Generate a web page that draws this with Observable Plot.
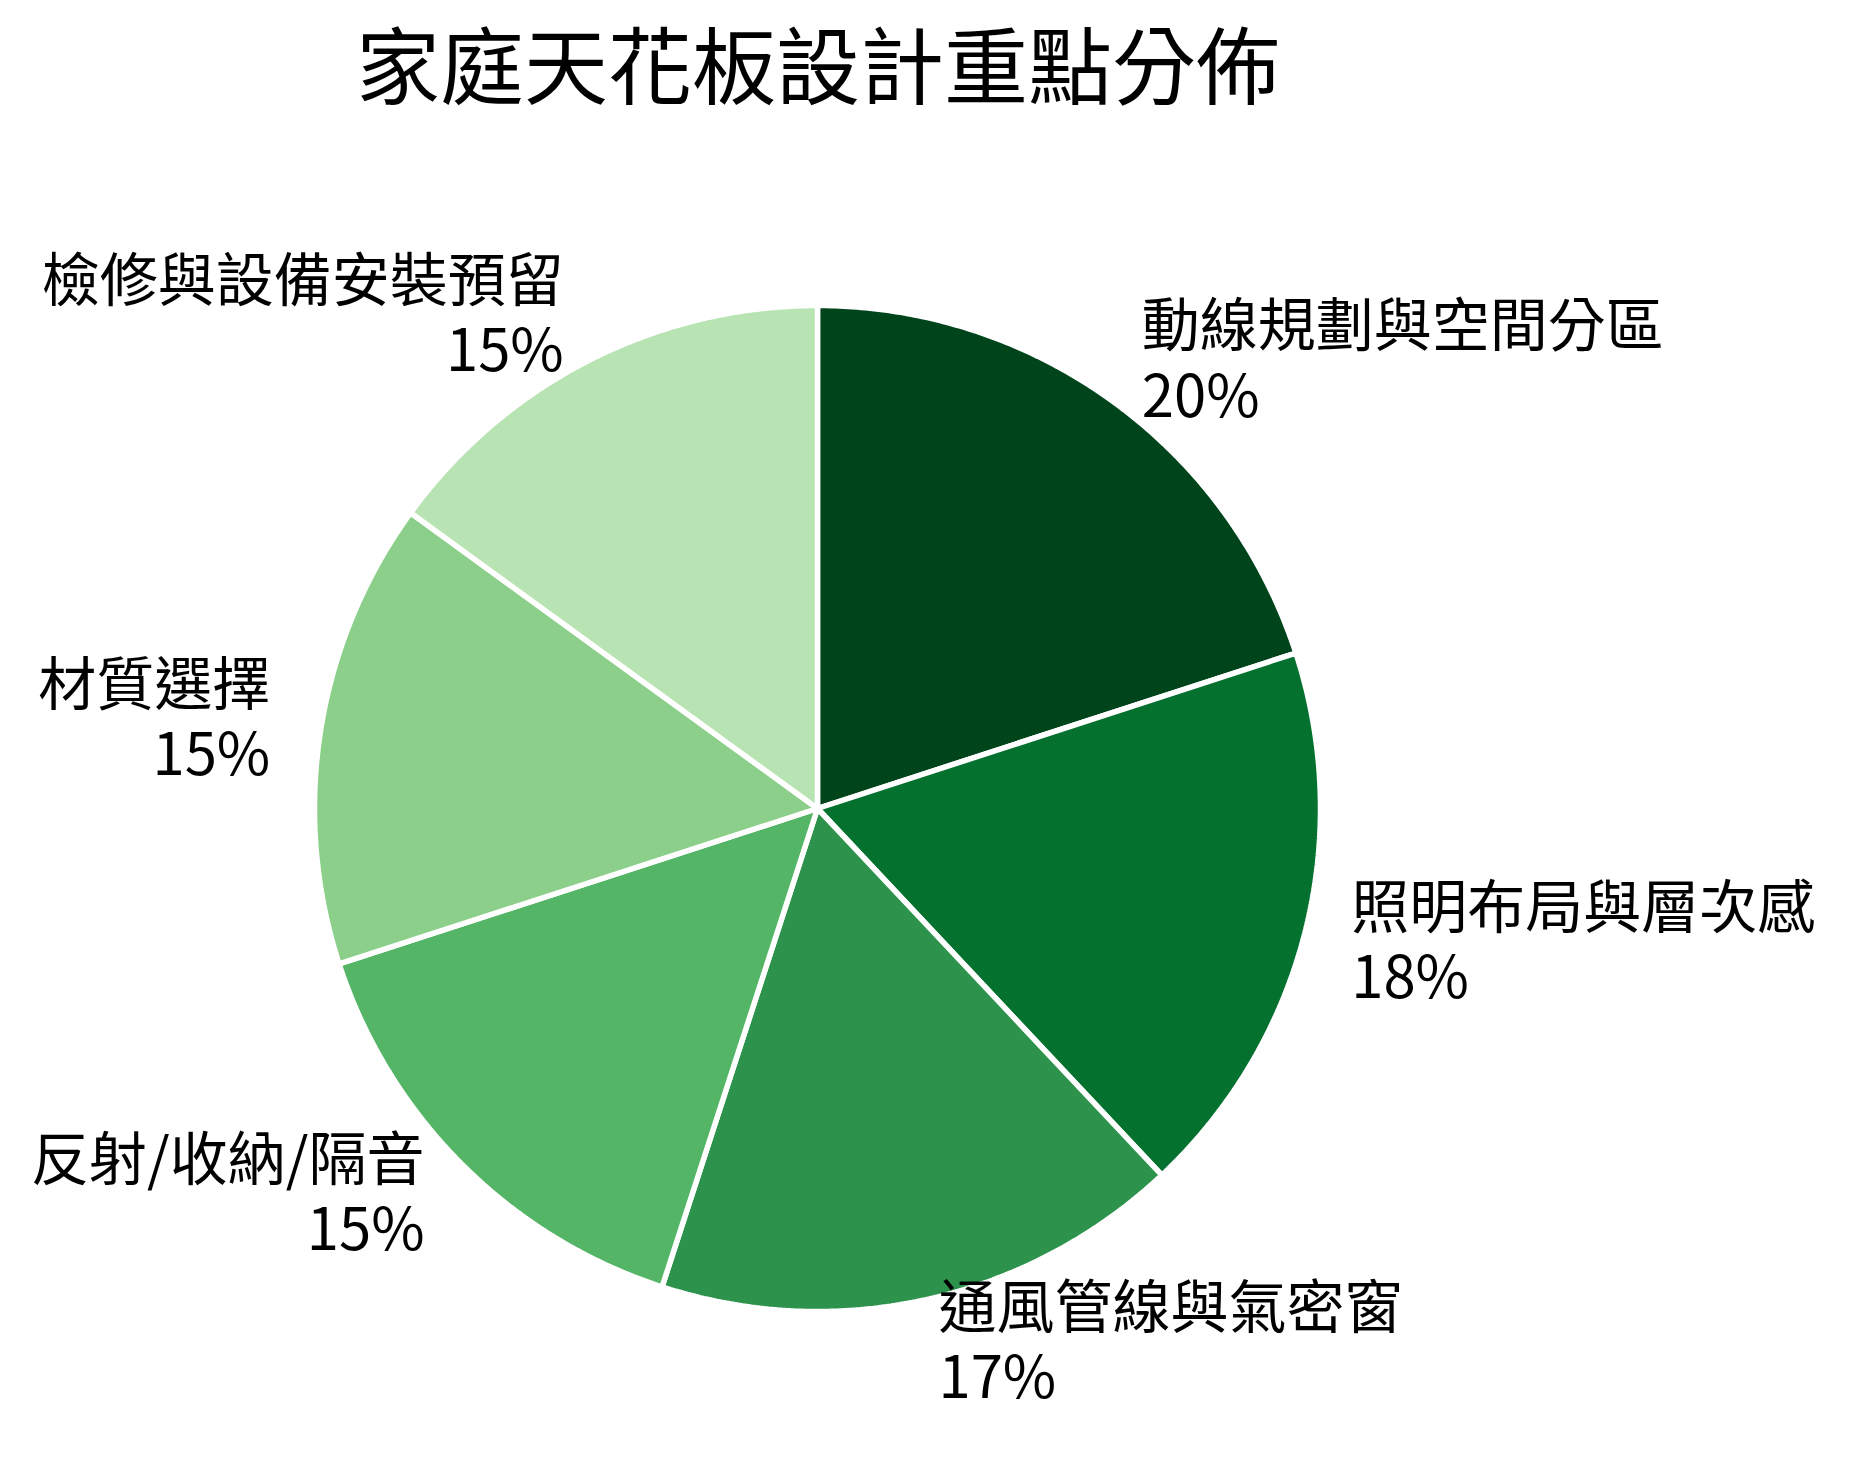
<!DOCTYPE html>
<html>
<head>
<meta charset="utf-8">
<script src="https://cdn.jsdelivr.net/npm/d3@7"></script>
<script src="https://cdn.jsdelivr.net/npm/@observablehq/plot@0.6"></script>
<style>
  html, body { margin: 0; padding: 0; background: #fff; }
  #title {
    font-family: "Noto Sans CJK TC", "Noto Sans CJK SC", sans-serif;
    font-size: 84px; line-height: 124px; height: 136px;
    text-align: center; color: #000; white-space: nowrap;
  }
  svg { display: block; }
</style>
</head>
<body>
<div id="title">家庭天花板設計重點分佈</div>
<div id="chart"></div>
<script>
const titleText = "家庭天花板設計重點分佈";
const labels = ["動線規劃與空間分區", "照明布局與層次感", "通風管線與氣密窗", "反射/收納/隔音", "材質選擇", "檢修與設備安裝預留"];
const values = [20, 18, 17, 15, 15, 15];
const colors = ["#00441b", "#05712f", "#2c924c", "#54b567", "#8ccf8a", "#b8e3b2"];

// layout
const W = 1850, H = 1332;
const CX = 817, CY = 672, R = 503;
const FONT = "Noto Sans CJK TC, Noto Sans CJK SC, sans-serif";

document.getElementById("title").textContent = titleText;
document.getElementById("title").style.width = (2 * CX + 2) + "px";

const total = d3.sum(values);
// angles clockwise from top (like startangle=90, counterclock=False)
let acc = 0;
const slices = labels.map((label, i) => {
  const a0 = acc / total * 2 * Math.PI;
  acc += values[i];
  const a1 = acc / total * 2 * Math.PI;
  return {label, value: values[i], a0, a1, mid: (a0 + a1) / 2};
});

const wedgePts = [];
for (const s of slices) {
  wedgePts.push({label: s.label, x: 0, y: 0});
  const n = Math.max(2, Math.ceil((s.a1 - s.a0) / (Math.PI / 360)));
  for (let k = 0; k <= n; ++k) {
    const a = s.a0 + (s.a1 - s.a0) * k / n;
    wedgePts.push({label: s.label, x: Math.sin(a), y: Math.cos(a)});
  }
}

const labelDist = 1.1 * 500 / R;
const labelPts = slices.map(s => ({
  x: labelDist * Math.sin(s.mid),
  y: labelDist * Math.cos(s.mid),
  text: s.label + "\n" + s.value + "%"
}));

const textOpts = {x: "x", y: "y", text: "text", lineAnchor: "middle", lineHeight: 1.22, fontSize: 58, fill: "black", fontFamily: FONT, dy: -5};

const plot = Plot.plot({
  width: W,
  height: H,
  margin: 0,
  style: {background: "white", fontFamily: FONT},
  x: {domain: [-CX / R, (W - CX) / R], range: [0, W], axis: null},
  y: {domain: [-(H - CY) / R, CY / R], range: [H, 0], axis: null},
  color: {domain: labels, range: colors},
  marks: [
    Plot.line(wedgePts, {x: "x", y: "y", z: "label", fill: "label", stroke: "white", strokeWidth: 5.5, strokeLinejoin: "miter", curve: "linear-closed"}),
    Plot.text(labelPts.filter(d => d.x >= 0), {...textOpts, textAnchor: "start", dx: 1}),
    Plot.text(labelPts.filter(d => d.x < 0), {...textOpts, textAnchor: "end", dx: -4})
  ]
});
document.getElementById("chart").appendChild(plot);
</script>
</body>
</html>
